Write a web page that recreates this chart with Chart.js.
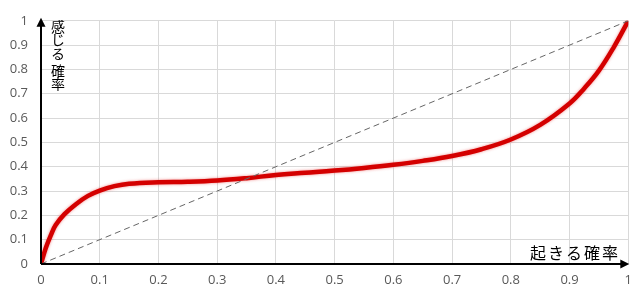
<!DOCTYPE html>
<html>
<head>
<meta charset="utf-8">
<script src="https://cdn.jsdelivr.net/npm/chart.js@4"></script>
<style>
  html, body { margin: 0; padding: 0; background: #fff; }
  #wrap { width: 640px; height: 298px; position: relative; }
</style>
</head>
<body>
<div id="wrap"><canvas id="chart"></canvas></div>
<script>
// values
var occurProb = [0, 0.008, 0.017, 0.025, 0.04, 0.06, 0.08, 0.1, 0.125, 0.15, 0.2, 0.25, 0.3, 0.35, 0.4, 0.45, 0.5, 0.55, 0.6, 0.65, 0.7, 0.75, 0.8, 0.85, 0.9, 0.925, 0.95, 0.975, 1];
var feltProb  = [0, 0.065, 0.12, 0.16, 0.205, 0.247, 0.28, 0.302, 0.32, 0.33, 0.336, 0.338, 0.343, 0.353, 0.366, 0.375, 0.384, 0.395, 0.408, 0.424, 0.444, 0.472, 0.512, 0.572, 0.66, 0.722, 0.795, 0.89, 1];
var diagX = [0, 1];
var diagY = [0, 1];
var xTitle = '起きる確率';
var yTitle = '感じる確率';

var curvePts = occurProb.map(function(x, i){ return { x: x, y: feltProb[i] }; });
var diagPts  = diagX.map(function(x, i){ return { x: x, y: diagY[i] }; });

// soft glow on the red curve
var glowPlugin = {
  id: 'glow',
  beforeDatasetDraw: function(chart, args){
    if (args.index === 1) {
      chart.ctx.save();
      chart.ctx.shadowColor = 'rgba(230,40,40,0.55)';
      chart.ctx.shadowBlur = 3;
    }
  },
  afterDatasetDraw: function(chart, args){
    if (args.index === 1) chart.ctx.restore();
  }
};

// black arrow axes + japanese titles
var axesPlugin = {
  id: 'arrowAxes',
  afterDatasetsDraw: function(chart){
    var ctx = chart.ctx, xs = chart.scales.x, ys = chart.scales.y;
    var x0 = xs.getPixelForValue(0), x1 = xs.getPixelForValue(1);
    var y0 = ys.getPixelForValue(0), y1 = ys.getPixelForValue(1);
    ctx.save();
    ctx.strokeStyle = '#000';
    ctx.fillStyle = '#000';
    ctx.lineWidth = 2;
    ctx.beginPath();
    ctx.moveTo(x0, y0);
    ctx.lineTo(x0, y1 + 2);
    ctx.moveTo(x0, y0);
    ctx.lineTo(x1 - 6, y0);
    ctx.stroke();
    // heads
    ctx.beginPath();
    ctx.moveTo(x0, y1 - 3);
    ctx.lineTo(x0 - 4.5, y1 + 6);
    ctx.lineTo(x0 + 4.5, y1 + 6);
    ctx.closePath();
    ctx.fill();
    ctx.beginPath();
    ctx.moveTo(x1 + 1, y0);
    ctx.lineTo(x1 - 8, y0 - 4.5);
    ctx.lineTo(x1 - 8, y0 + 4.5);
    ctx.closePath();
    ctx.fill();

    ctx.font = '14px "Noto Sans CJK JP"';
    ctx.textAlign = 'center';
    ctx.textBaseline = 'middle';
    var cy = [27, 40, 54, 71, 84];
    yTitle.split('').forEach(function(c, i){ ctx.fillText(c, x0 + 17, cy[i]); });
    ctx.font = '16px "Noto Sans CJK JP"';
    ctx.textAlign = 'left';
    ctx.letterSpacing = '2px';
    ctx.fillText(xTitle, 530, 253);
    ctx.restore();
  }
};

function fmt(v){
  var r = Math.round(v * 10) / 10;
  return (r === 0 || r === 1) ? String(r) : r.toFixed(1);
}

new Chart(document.getElementById('chart'), {
  type: 'scatter',
  data: {
    datasets: [
      {
        data: diagPts,
        showLine: true,
        borderColor: '#666',
        borderWidth: 1,
        borderDash: [6, 4],
        pointRadius: 0
      },
      {
        data: curvePts,
        showLine: true,
        borderColor: '#d40000',
        borderWidth: 4.5,
        pointRadius: 0,
        tension: 0.4,
        borderCapStyle: 'round',
        borderJoinStyle: 'round'
      }
    ]
  },
  options: {
    responsive: true,
    maintainAspectRatio: false,
    animation: false,
    layout: { padding: { top: 15, right: 8, left: 0, bottom: 0 } },
    plugins: {
      legend: { display: false },
      tooltip: { enabled: false }
    },
    scales: {
      x: {
        type: 'linear',
        min: 0, max: 1,
        ticks: {
          stepSize: 0.1,
          callback: fmt,
          color: '#595959',
          font: { family: 'Open Sans', size: 13 },
          padding: 8,
          maxRotation: 0
        },
        grid: { color: '#d9d9d9', lineWidth: 1, drawTicks: false },
        border: { display: false },
        afterFit: function(s){ s.height = 34; }
      },
      y: {
        type: 'linear',
        min: 0, max: 1,
        ticks: {
          stepSize: 0.1,
          callback: fmt,
          color: '#595959',
          font: { family: 'Open Sans', size: 13 },
          padding: 13
        },
        grid: { color: '#d9d9d9', lineWidth: 1, drawTicks: false },
        border: { display: false },
        afterFit: function(s){ s.width = 41; }
      }
    }
  },
  plugins: [glowPlugin, axesPlugin]
});
</script>
</body>
</html>
